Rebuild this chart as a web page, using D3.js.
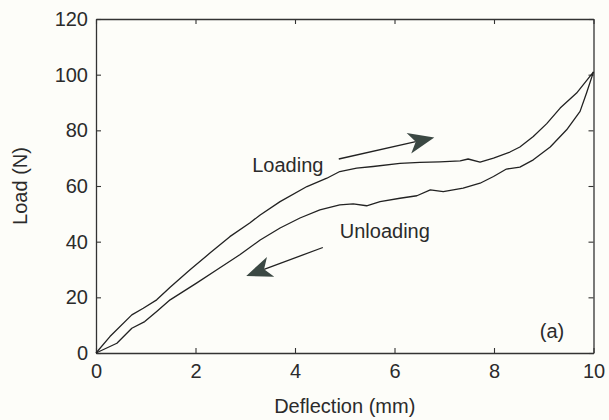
<!DOCTYPE html>
<html>
<head>
<meta charset="utf-8">
<script src="https://cdn.jsdelivr.net/npm/d3@7"></script>
<style>
  body { margin: 0; background: #fdfdf9; }
  text { font-family: "Liberation Sans", Arial, sans-serif; fill: #2b2b2b; }
</style>
</head>
<body>
<div id="chart"></div>
<script>
// Loading branch (upper curve), deflection in mm, load in N
const loadX = [0, 0.28, 0.72, 0.95, 1.22, 1.49, 1.89, 2.29, 2.69, 3.09, 3.30, 3.70, 4.24, 4.64, 4.90, 5.24, 5.57, 6.11, 6.51, 6.91, 7.32, 7.48, 7.72, 7.99, 8.32, 8.52, 8.79, 9.06, 9.33, 9.66, 10];
const loadY = [0, 5.9, 13.7, 16.1, 19.1, 23.6, 29.9, 35.9, 41.8, 46.7, 49.6, 54.4, 59.8, 62.8, 65.2, 66.4, 67.0, 68.1, 68.5, 68.7, 69.0, 69.7, 68.6, 70.0, 72.2, 74.0, 77.8, 82.4, 88.0, 93.4, 101];

// Unloading branch (lower curve), from full deflection back to zero
const unloadX = [10, 9.86, 9.73, 9.46, 9.13, 8.79, 8.52, 8.25, 7.99, 7.72, 7.38, 6.98, 6.72, 6.45, 6.11, 5.71, 5.44, 5.17, 4.90, 4.50, 4.10, 3.70, 3.30, 2.89, 2.43, 2.02, 1.49, 1.22, 0.98, 0.72, 0.42, 0];
const unloadY = [101, 93.4, 86.8, 80.2, 74.0, 69.4, 66.8, 66.1, 63.4, 61.0, 59.2, 58.0, 58.6, 56.5, 55.6, 54.4, 52.9, 53.6, 53.2, 51.4, 48.5, 44.9, 40.6, 35.3, 29.9, 25.1, 19.1, 14.9, 11.3, 8.9, 3.5, 0];

const xTicks = [0, 2, 4, 6, 8, 10];
const yTicks = [0, 20, 40, 60, 80, 100, 120];

let width = 609, height = 420;
let margin = { top: 19, right: 15.5, bottom: 67, left: 96 };

let svg = d3.select('#chart')
  .append('svg')
  .attr('width', width)
  .attr('height', height)
  .style('background', '#fdfdf9');

let xScale = d3.scaleLinear()
  .domain([0, 10])
  .range([margin.left, width - margin.right]);

let yScale = d3.scaleLinear()
  .domain([0, 120])
  .range([height - margin.bottom, margin.top]);

// axes with inward ticks on all four sides
let fmt = d3.format('d');
let xAxis = svg.append('g')
  .attr('transform', `translate(0,${height - margin.bottom})`)
  .call(d3.axisBottom(xScale).tickValues(xTicks).tickFormat(fmt).tickSizeInner(-5).tickSizeOuter(0).tickPadding(11));
let yAxis = svg.append('g')
  .attr('transform', `translate(${margin.left},0)`)
  .call(d3.axisLeft(yScale).tickValues(yTicks).tickFormat(fmt).tickSizeInner(-5).tickSizeOuter(0).tickPadding(8));
let topAxis = svg.append('g')
  .attr('transform', `translate(0,${margin.top})`)
  .call(d3.axisTop(xScale).tickValues(xTicks).tickFormat('').tickSizeInner(-5).tickSizeOuter(0));
let rightAxis = svg.append('g')
  .attr('transform', `translate(${width - margin.right},0)`)
  .call(d3.axisRight(yScale).tickValues(yTicks).tickFormat('').tickSizeInner(-5).tickSizeOuter(0));

svg.selectAll('.domain').attr('stroke', '#333').attr('stroke-width', 1.3);
svg.selectAll('.tick line').attr('stroke', '#333').attr('stroke-width', 1.1);
svg.selectAll('.tick text')
  .style('font-size', '20px')
  .style('font-family', '"Liberation Sans", Arial, sans-serif')
  .attr('fill', '#2b2b2b');

// axis labels
svg.append('text')
  .attr('x', (xScale(0) + xScale(10)) / 2)
  .attr('y', 413)
  .attr('text-anchor', 'middle')
  .style('font-size', '20px')
  .text('Deflection (mm)');

svg.append('text')
  .attr('x', -(yScale(0) + yScale(120)) / 2)
  .attr('y', 27)
  .attr('transform', 'rotate(-90)')
  .attr('text-anchor', 'middle')
  .style('font-size', '20px')
  .text('Load (N)');

// curves
let line = d3.line()
  .x(d => xScale(d[0]))
  .y(d => yScale(d[1]));

svg.append('path')
  .datum(d3.zip(loadX, loadY))
  .attr('fill', 'none')
  .attr('stroke', '#222')
  .attr('stroke-width', 1.3)
  .attr('stroke-linejoin', 'round')
  .attr('d', line);

svg.append('path')
  .datum(d3.zip(unloadX, unloadY))
  .attr('fill', 'none')
  .attr('stroke', '#222')
  .attr('stroke-width', 1.3)
  .attr('stroke-linejoin', 'round')
  .attr('d', line);

// annotations
function arrow(x0, y0, x1, y1) {
  let ax = xScale(x0), ay = yScale(y0), bx = xScale(x1), by = yScale(y1);
  let dx = bx - ax, dy = by - ay, len = Math.hypot(dx, dy);
  let ux = dx / len, uy = dy / len, nx = -uy, ny = ux;
  let back = 26, half = 10.5, notch = 19;
  svg.append('line')
    .attr('x1', ax).attr('y1', ay)
    .attr('x2', bx - ux * notch).attr('y2', by - uy * notch)
    .attr('stroke', '#222')
    .attr('stroke-width', 1.3);
  let pts = [
    [bx, by],
    [bx - ux * back + nx * half, by - uy * back + ny * half],
    [bx - ux * notch, by - uy * notch],
    [bx - ux * back - nx * half, by - uy * back - ny * half]
  ];
  svg.append('path')
    .attr('d', 'M' + pts.map(p => p.join(',')).join('L') + 'Z')
    .attr('fill', '#3b4843');
}

arrow(4.88, 69.7, 6.80, 77.4);
arrow(4.56, 37.9, 3.02, 27.7);

svg.append('text')
  .attr('x', xScale(3.14))
  .attr('y', yScale(65.1))
  .style('font-size', '20px')
  .text('Loading');

svg.append('text')
  .attr('x', xScale(4.90))
  .attr('y', yScale(41.4))
  .style('font-size', '20px')
  .text('Unloading');

svg.append('text')
  .attr('x', xScale(8.92))
  .attr('y', yScale(5.4))
  .style('font-size', '20px')
  .text('(a)');
</script>
</body>
</html>
